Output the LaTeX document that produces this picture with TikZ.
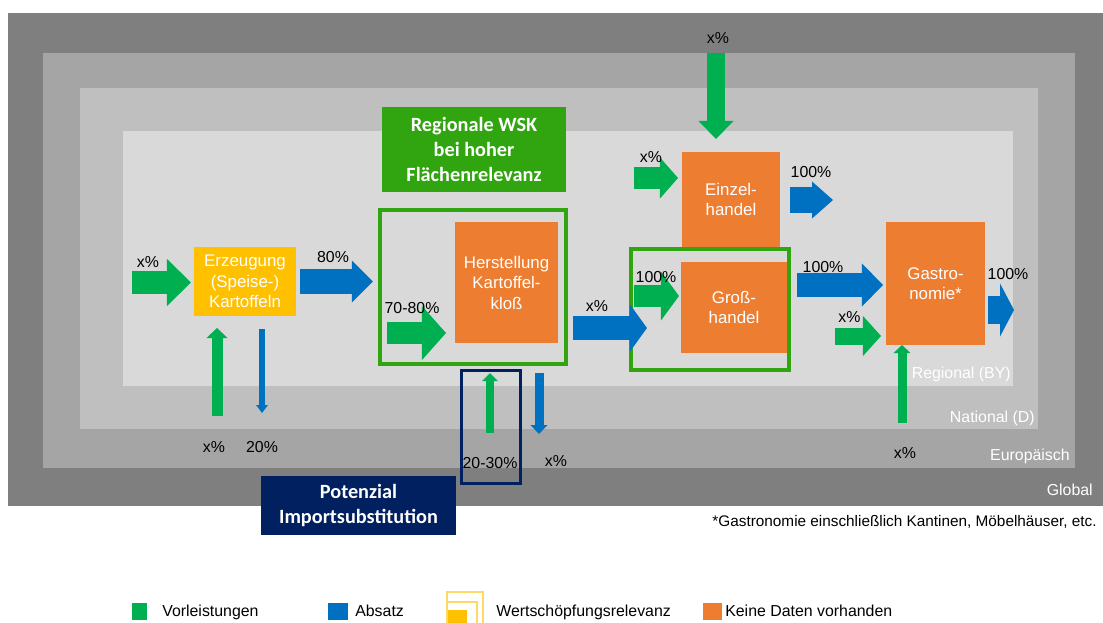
\documentclass[tikz,border=0pt]{standalone}
\usepackage{fontspec}
\setmainfont{Liberation Sans}
\newfontfamily\boxfont{Carlito}
\usetikzlibrary{arrows.meta,calc}
\definecolor{lvglobal}{HTML}{7F7F7F}
\definecolor{lveuro}{HTML}{A5A5A5}
\definecolor{lvnat}{HTML}{BFBFBF}
\definecolor{lvreg}{HTML}{D9D9D9}
\definecolor{agreen}{HTML}{00B050}
\definecolor{ablue}{HTML}{0070C0}
\definecolor{korange}{HTML}{ED7D31}
\definecolor{kyellow}{HTML}{FFC000}
\definecolor{wskgreen}{HTML}{30A50F}
\definecolor{navy}{HTML}{002060}
\definecolor{ylight}{HTML}{FFD966}
\tikzset{
  every picture/.append style={line join=miter},
  lbl/.style={inner sep=0pt, font=\fontsize{11.3}{14.6}\selectfont},
  lvlbl/.style={lbl, text=white, anchor=east},
  datbox/.style={inner sep=0pt, font=\fontsize{12}{14.6}\selectfont, fill=korange, text=white, align=center, outer sep=0pt},
  titlebox/.style={inner sep=0pt, text=white, align=center,
    font=\boxfont\bfseries\fontsize{14.4}{17.6}\selectfont},
  wskframe/.style={draw=wskgreen, line width=0.1cm, inner sep=0pt, outer sep=0pt},
  fatarr/.style n args={4}{draw=#1, line width=#2cm,
    -{Triangle[width=#3cm,length=#4cm,line width=0pt]}},
  legsq/.style={inner sep=0pt, minimum width=#1, minimum height=0.425cm},
  legtxt/.style={lbl, anchor=base west}
}

\begin{document}
\begin{tikzpicture}[x=0.025cm,y=-0.025cm]
  \useasboundingbox (0,0) rectangle (1103,623);
  % raeumliche Ebenen
  \fill[lvglobal] (8,13) rectangle (1103,506);
  \fill[lveuro] (43,53) rectangle (1075,468);
  \fill[lvnat] (80,88) rectangle (1038,429);
  \fill[lvreg] (123,131) rectangle (1013,386);
  \node[lvlbl] (lreg) at (1011,374) {Regional (BY)};
  \node[lvlbl] (lnat) at (1035,418) {National (D)};
  \node[lvlbl] (leur) at (1070,456) {Europäisch};
  \node[lvlbl] (lglob) at (1093,490) {Global};

  % Stufen
  \node[datbox, fill=kyellow, minimum width=2.55cm, minimum height=1.725cm] (erz) at (245,281.5) {Erzeugung\\(Speise-)\\Kartoffeln};
  \node[datbox, minimum width=2.575cm, minimum height=3.025cm] (herst) at (506.5,282.5) {Herstellung\\Kartoffel-\\kloß};
  \node[wskframe, minimum width=4.65cm, minimum height=3.85cm] (hfr) at (473,287) {};
  \node[datbox, minimum width=2.45cm, minimum height=2.375cm] (einz) at (731,199.5) {Einzel-\\handel};
  \node[datbox, minimum width=2.65cm, minimum height=2.275cm] (gross) at (734,307.5) {Groß-\\handel};
  \node[wskframe, minimum width=3.95cm, minimum height=3.025cm] (gfr) at (710,309.5) {};
  \node[datbox, minimum width=2.475cm, minimum height=3.075cm] (gas) at (935.5,283.5) {Gastro-\\nomie*};
  \node[draw=navy, line width=0.075cm, inner sep=0pt, minimum width=1.475cm, minimum height=2.825cm] (imp) at (491,427) {};

  \node[titlebox, fill=wskgreen, minimum width=4.6cm, minimum height=2.125cm] (wsk) at (474,149.5) {Regionale WSK\\bei hoher\\Flächenrelevanz};
  \node[titlebox, fill=navy, minimum width=4.875cm, minimum height=1.475cm] (pot) at (358.5,505.5) {Potenzial\\Importsubstitution};

  % freie Enden
  \coordinate (erzin) at (132,282.5);
  \coordinate (erzup) at (217,416);
  \coordinate (erzdn) at (262,413);
  \coordinate (herin) at (387,333);
  \coordinate (herup) at (490,433);
  \coordinate (herdn) at (539,434);
  \coordinate (hergr) at (573,328);
  \coordinate (grin) at (634,296);
  \coordinate (einin) at (634,178);
  \coordinate (eintop) at (716,53);
  \coordinate (einout) at (833,200);
  \coordinate (grgas) at (797,285);
  \coordinate (gasin) at (835,336);
  \coordinate (gasout) at (1014,310);
  \coordinate (gasup) at (902,423);

  % Vorleistungen und Absatz
  \draw[fatarr={agreen}{0.575}{1.175}{0.6}, shorten >=0.075cm] (erzin) -- (erzin -| erz.west);
  \draw[fatarr={ablue}{0.6}{1.05}{0.525}, shorten <=0.1cm, shorten >=0.175cm] (erz.east) -- (erz.east -| hfr.west);
  \draw[fatarr={agreen}{0.275}{0.525}{0.25}, shorten >=0.3cm] (erzup) -- (erzup |- erz.south);
  \draw[fatarr={ablue}{0.15}{0.3}{0.2}, shorten <=0.325cm] (erzdn |- erz.south) -- (erzdn);
  \draw[fatarr={agreen}{0.55}{1.35}{0.6}, shorten >=0.225cm] (herin) -- (herin -| herst.west);
  \draw[fatarr={agreen}{0.2}{0.4}{0.2}, shorten >=0.225cm] (herup) -- (herup |- hfr.south);
  \draw[fatarr={ablue}{0.225}{0.425}{0.225}, shorten <=0.225cm] (herdn |- hfr.south) -- (herdn);
  \draw[fatarr={ablue}{0.575}{1.175}{0.425}, shorten >=0.85cm] (hergr) -- (hergr -| gross.west);
  \draw[fatarr={agreen}{0.55}{1.225}{0.45}, shorten >=0.05cm] (grin) -- (grin -| gross.west);
  \draw[fatarr={agreen}{0.525}{1.025}{0.45}, shorten >=0.1cm] (einin) -- (einin -| einz.west);
  \draw[fatarr={agreen}{0.45}{0.875}{0.45}, shorten >=0.325cm] (eintop) -- (eintop |- einz.north);
  \draw[fatarr={ablue}{0.625}{0.925}{0.525}, shorten <=0.25cm] (einout -| einz.east) -- (einout);
  \draw[fatarr={ablue}{0.575}{1.075}{0.525}, shorten >=0.075cm] (grgas) -- (grgas -| gas.west);
  \draw[fatarr={agreen}{0.425}{1.0}{0.45}, shorten >=0.125cm] (gasin) -- (gasin -| gas.west);
  \draw[fatarr={ablue}{0.675}{1.325}{0.35}, shorten <=0.075cm] (gasout -| gas.east) -- (gasout);
  \draw[fatarr={agreen}{0.225}{0.425}{0.2}] (gasup) -- (gasup |- gas.south);

  % Anteile
  \node[lbl] (perzin) at (148,262) {x\%};
  \node[lbl] (perzout) at (333,257) {80\%};
  \node[lbl] (perzup) at (214,447) {x\%};
  \node[lbl] (perzdn) at (262,447) {20\%};
  \node[lbl] (pherin) at (412,308) {70-80\%};
  \node[lbl] (pherup) at (490,463) {20-30\%};
  \node[lbl] (pherdn) at (556,461) {x\%};
  \node[lbl] (phergr) at (597,306) {x\%};
  \node[lbl] (pgrin) at (656,277) {100\%};
  \node[lbl] (peinin) at (651,157) {x\%};
  \node[lbl] (peintop) at (718,38) {x\%};
  \node[lbl] (peinout) at (811,172) {100\%};
  \node[lbl] (pgrgas) at (823,267) {100\%};
  \node[lbl] (pgasin) at (849.5,317) {x\%};
  \node[lbl] (pgasout) at (1008,274) {100\%};
  \node[lbl] (pgasup) at (905,453) {x\%};

  \node[inner sep=0pt, anchor=east, font=\fontsize{10.9}{13}\selectfont] (note) at (1097,522) {*Gastronomie einschließlich Kantinen, Möbelhäuser, etc.};

  % Legende
  \node[legsq=0.375cm, fill=agreen] (sqv) at (139.5,611.5) {};
  \node[legtxt] (lv) at (162,616) {Vorleistungen};
  \node[legsq=0.5cm, fill=ablue] (sqa) at (338,611.5) {};
  \node[legtxt] (la) at (355,616) {Absatz};
  \fill[kyellow] (448,610) rectangle (467,623);
  \draw[ylight, line width=0.035cm] (447,623) |- (477,602) -- (477,623);
  \draw[ylight, line width=0.035cm] (447,602) |- (483,592) -- (483,623);
  \node[legtxt] (lw) at (496,616) {Wertschöpfungsrelevanz};
  \node[legsq=0.475cm, fill=korange] (sqk) at (712.5,611.5) {};
  \node[legtxt] (lk) at (725,616) {Keine Daten vorhanden};
\end{tikzpicture}
\end{document}
